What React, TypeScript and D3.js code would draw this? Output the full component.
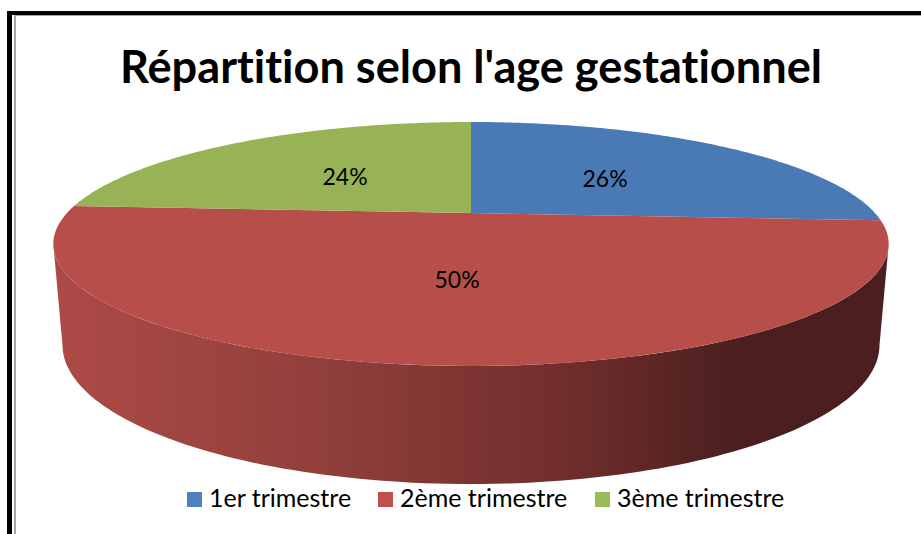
import React from 'react';
import * as d3 from 'd3';

const title = "Répartition selon l'age gestationnel";
const categories = ['1er trimestre', '2ème trimestre', '3ème trimestre'];
const percents = [26, 50, 24];
const colors = ['#4a7ab5', '#b74e4a', '#98b355'];
const legendColors = ['#4f81bd', '#c0504d', '#9bbb59'];
const legendX = [187, 378, 595];

const width = 921;
const height = 534;
const cx = 471;

// perspective projection of the pie's disc
const R = 404;
const persp = -0.254;
const topProject = (a: number): [number, number] => {
  const x = Math.sin(a);
  const y = -Math.cos(a);
  const w = 1 + persp * y;
  return [cx + (R * x) / w, (60 * y + 213) / w];
};
// bottom rim of the wall: same ellipse, a little narrower and lower
const bottomProject = (a: number): [number, number] => {
  const [x, y] = topProject(a);
  return [cx + (x - cx) * 0.978, 345 + (y - 244) * 1.14];
};

const line = d3.line();
const sample = (f: (a: number) => [number, number], a0: number, a1: number) =>
  d3.range(0, 121).map((i) => f(a0 + ((a1 - a0) * i) / 120));

export default function App() {
  const pie = d3.pie<number>().sort(null)(percents);
  // angles where the disc is widest, from the right tangent round the front to the left one
  const tangent = Math.acos(-0.254);
  const wall = [
    ...sample(topProject, tangent, 2 * Math.PI - tangent),
    ...sample(bottomProject, 2 * Math.PI - tangent, tangent),
  ];
  const labelPos: [number, number][] = [
    [605, 179],
    [457, 280],
    [345, 177],
  ];

  return (
    <svg
      width={width}
      height={height}
      style={{
        position: 'absolute',
        left: 0,
        top: 0,
        fontFamily: 'Lato, Carlito, sans-serif',
        fontVariantLigatures: 'none',
      }}
    >
      <defs>
        <linearGradient id="wall" gradientUnits="userSpaceOnUse" x1={53} x2={889} y1={0} y2={0}>
          <stop offset="0" stopColor="#ad4a47" />
          <stop offset="0.3" stopColor="#93403c" />
          <stop offset="0.6" stopColor="#722f2d" />
          <stop offset="0.82" stopColor="#4b1f1f" />
          <stop offset="1" stopColor="#4b1f1f" />
        </linearGradient>
      </defs>

      <rect x={0} y={0} width={width} height={height} fill="#fff" />
      <rect x={7} y={11} width={914} height={4} fill="#000" />
      <rect x={7} y={11} width={5} height={523} fill="#000" />
      <rect x={14} y={15} width={2} height={519} fill="#a6a6a6" />
      <rect x={15} y={15} width={906} height={1} fill="#a6a6a6" />

      <text x={471} y={83} fontSize={46} fontWeight={700} textAnchor="middle" textLength={702} lengthAdjust="spacingAndGlyphs" fill="#000">
        {title}
      </text>

      <path d={line(wall) + 'Z'} fill="url(#wall)" />
      {pie.map((s, i) => (
        <path
          key={categories[i]}
          d={line([[cx, 213], ...sample(topProject, s.startAngle, s.endAngle)]) + 'Z'}
          fill={colors[i]}
        />
      ))}
      {pie.map((s, i) => (
        <text key={i} x={labelPos[i][0]} y={labelPos[i][1]} dy="0.35em" fontSize={23} textAnchor="middle" fill="#000">
          {s.data}%
        </text>
      ))}

      {categories.map((c, i) => (
        <g key={c}>
          <rect x={legendX[i]} y={492} width={15} height={15} fill={legendColors[i]} />
          <text x={legendX[i] + 22} y={507} fontSize={25} fill="#000">
            {c}
          </text>
        </g>
      ))}
    </svg>
  );
}
